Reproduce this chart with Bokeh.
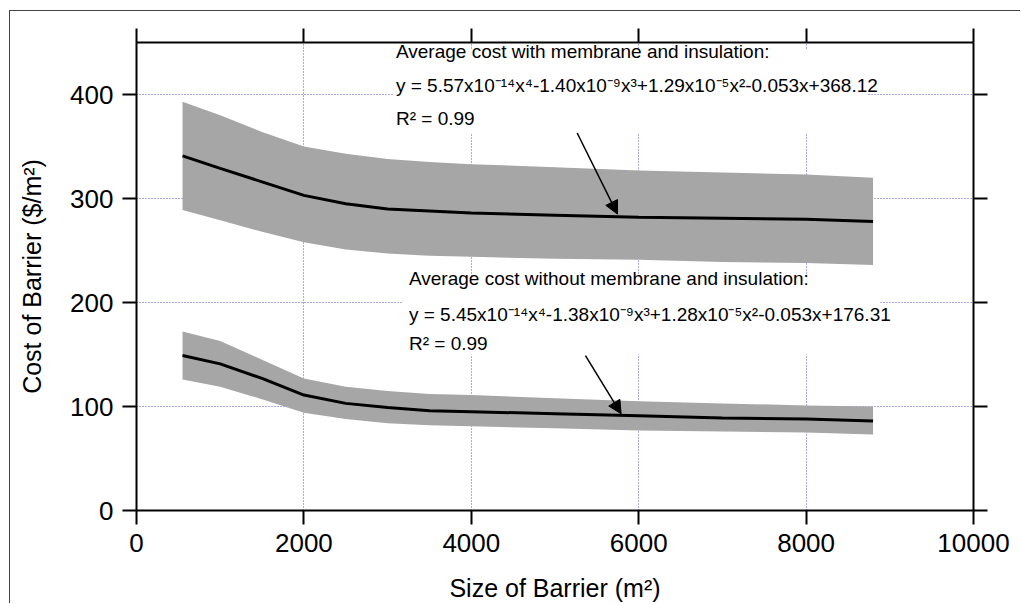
from bokeh.plotting import figure
from bokeh.models import Range1d, LinearAxis, FixedTicker, Label, Arrow, NormalHead, BoxAnnotation
from bokeh.embed import file_html
from bokeh.resources import INLINE

# ---- data ----
size_m2 = [550, 1000, 1500, 2000, 2500, 3000, 3500, 4000, 5000, 6000, 7000, 8000, 8800]
with_mean = [341, 329, 316, 303, 295, 290, 288, 286, 284, 282, 281, 280, 278]
with_upper = [393, 380, 364, 350, 343, 338, 335, 333, 330, 327, 325, 323, 320]
with_lower = [289, 279, 268, 258, 251, 247, 245, 244, 242, 241, 239, 238, 236]
without_mean = [149, 141, 127, 111, 103, 99, 96, 95, 93, 91, 89, 88, 86]
without_upper = [172, 163, 145, 127, 119, 115, 112, 111, 108, 105, 103, 101, 100]
without_lower = [126, 119, 107, 94, 88, 84, 82, 81, 79, 77, 76, 75, 73]
x_ticks = [0, 2000, 4000, 6000, 8000, 10000]
y_ticks = [0, 100, 200, 300, 400]

upper_text = ["Average cost with membrane and insulation:",
              "y = 5.57x10\u207b\u00b9\u2074x\u2074-1.40x10\u207b\u2079x\u00b3+1.29x10\u207b\u2075x\u00b2-0.053x+368.12",
              "R\u00b2 = 0.99"]
lower_text = ["Average cost without membrane and insulation:",
              "y = 5.45x10\u207b\u00b9\u2074x\u2074-1.38x10\u207b\u2079x\u00b3+1.28x10\u207b\u2075x\u00b2-0.053x+176.31",
              "R\u00b2 = 0.99"]

FONT = "Liberation Sans"

p = figure(width=1011, height=593, output_backend="svg", toolbar_location=None,
           x_range=Range1d(0, 10000), y_range=Range1d(0, 450),
           min_border_left=126, min_border_right=48, min_border_top=31, min_border_bottom=93,
           x_axis_label="Size of Barrier (m\u00b2)", y_axis_label="Cost of Barrier ($/m\u00b2)")
p.styles = {"margin-left": "9px", "margin-top": "10px",
            "border-left": "1px solid #444", "border-top": "1px solid #444"}
p.outline_line_color = None
p.background_fill_color = "white"
p.border_fill_color = "white"

bx = p.xaxis[0]
bx.ticker = FixedTicker(ticks=x_ticks)
ly = p.yaxis[0]
ly.ticker = FixedTicker(ticks=y_ticks)
for ax in (bx, ly):
    ax.axis_line_width = 2
    ax.axis_line_color = "black"
    ax.major_tick_line_width = 2
    ax.major_tick_line_color = "black"
    ax.major_tick_out = 14
    ax.major_tick_in = 0
    ax.minor_tick_line_color = None
    ax.major_label_text_font = FONT
    ax.major_label_text_font_size = "26px"
    ax.major_label_text_color = "black"
    ax.major_label_standoff = 9
    ax.axis_label_text_font = FONT
    ax.axis_label_text_font_size = "25px"
    ax.axis_label_text_font_style = "normal"
    ax.axis_label_text_color = "black"
bx.axis_label_standoff = 19
ly.axis_label_standoff = 21

tx = LinearAxis(ticker=FixedTicker(ticks=x_ticks))
ry = LinearAxis(ticker=FixedTicker(ticks=y_ticks))
for ax in (tx, ry):
    ax.axis_line_width = 2
    ax.axis_line_color = "black"
    ax.major_tick_line_width = 2
    ax.major_tick_line_color = "black"
    ax.major_tick_out = 14
    ax.major_tick_in = 0
    ax.minor_tick_line_color = None
    ax.major_label_text_font_size = "2px"
    ax.major_label_text_color = None
    ax.major_label_standoff = 0
p.add_layout(tx, "above")
p.add_layout(ry, "right")

for g in (p.xgrid[0], p.ygrid[0]):
    g.grid_line_color = "#5656c8"
    g.grid_line_dash = "1 2"
    g.grid_line_width = 1
p.xgrid[0].ticker = FixedTicker(ticks=x_ticks)
p.ygrid[0].ticker = FixedTicker(ticks=y_ticks)

band_color = "#a6a6a6"
p.varea(x=size_m2, y1=with_lower, y2=with_upper, fill_color=band_color)
p.varea(x=size_m2, y1=without_lower, y2=without_upper, fill_color=band_color)
p.line(x=size_m2, y=with_mean, line_color="black", line_width=3)
p.line(x=size_m2, y=without_mean, line_color="black", line_width=3)

# white boxes behind annotation text
p.add_layout(BoxAnnotation(left=3072, right=8726, top=443, bottom=362,
                           fill_color="white", fill_alpha=1, line_color=None))
p.add_layout(BoxAnnotation(left=3180, right=8886, top=225, bottom=150,
                           fill_color="white", fill_alpha=1, line_color=None))

for txt, yy in zip(upper_text, [441.0, 408.7, 376.7]):
    p.add_layout(Label(x=3100, y=yy, text=txt, text_font=FONT, text_font_size="19px",
                       text_color="black", text_align="left", text_baseline="alphabetic"))
for txt, yy in zip(lower_text, [222.8, 188.3, 161.0]):
    p.add_layout(Label(x=3255, y=yy, text=txt, text_font=FONT, text_font_size="19px",
                       text_color="black", text_align="left", text_baseline="alphabetic"))

p.add_layout(Arrow(x_start=5265, y_start=363, x_end=5746, y_end=285, line_width=1.5,
                   end=NormalHead(size=13, fill_color="black", line_color="black", line_width=1)))
p.add_layout(Arrow(x_start=5364, y_start=149, x_end=5790, y_end=93, line_width=1.5,
                   end=NormalHead(size=13, fill_color="black", line_color="black", line_width=1)))

open("out.html", "w").write(file_html(p, INLINE))
